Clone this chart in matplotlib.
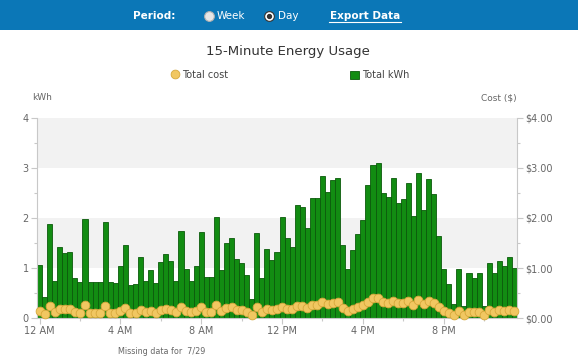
import matplotlib
matplotlib.use('Agg')
import matplotlib.pyplot as plt
from matplotlib.lines import Line2D
from matplotlib.patches import Rectangle
from matplotlib.ticker import MultipleLocator

# 15-minute readings (kWh per interval)
kwh = [1.07, 0.43, 1.89, 0.75, 1.43, 1.31, 1.33, 0.81, 0.73, 1.98, 0.73, 0.73,
       0.73, 1.92, 0.73, 0.71, 1.05, 1.47, 0.67, 0.69, 1.23, 0.75, 0.97, 0.70,
       1.13, 1.29, 1.15, 0.75, 1.75, 0.98, 0.75, 1.05, 1.73, 0.83, 0.83, 2.02,
       0.97, 1.51, 1.61, 1.19, 1.11, 0.87, 0.39, 1.71, 0.81, 1.38, 1.17, 1.33,
       2.02, 1.60, 1.43, 2.27, 2.23, 1.81, 2.39, 2.39, 2.83, 2.52, 2.75, 2.79,
       1.47, 0.98, 1.37, 1.69, 1.97, 2.65, 3.07, 3.10, 2.51, 2.42, 2.80, 2.31,
       2.38, 2.69, 2.05, 2.89, 2.17, 2.77, 2.47, 1.65, 0.98, 0.68, 0.28, 0.98,
       0.25, 0.91, 0.80, 0.91, 0.25, 1.10, 0.91, 1.15, 1.05, 1.23, 1.00]

# cost per interval ($)
cost = [0.15, 0.08, 0.25, 0.12, 0.19, 0.18, 0.18, 0.12, 0.11, 0.26, 0.11, 0.11,
        0.11, 0.25, 0.11, 0.11, 0.15, 0.20, 0.10, 0.10, 0.17, 0.12, 0.14, 0.11,
        0.16, 0.18, 0.16, 0.12, 0.23, 0.14, 0.12, 0.15, 0.23, 0.13, 0.13, 0.26,
        0.14, 0.20, 0.22, 0.17, 0.16, 0.13, 0.07, 0.23, 0.12, 0.19, 0.16, 0.18,
        0.22, 0.19, 0.18, 0.24, 0.24, 0.21, 0.27, 0.27, 0.32, 0.29, 0.31, 0.32,
        0.20, 0.14, 0.19, 0.22, 0.26, 0.33, 0.40, 0.41, 0.32, 0.31, 0.35, 0.30,
        0.30, 0.34, 0.27, 0.36, 0.28, 0.35, 0.31, 0.22, 0.14, 0.11, 0.06, 0.14,
        0.06, 0.13, 0.12, 0.13, 0.06, 0.16, 0.13, 0.16, 0.15, 0.17, 0.15]

hour_ticks = [0, 16, 32, 48, 64, 80]
hour_labels = ['12 AM', '4 AM', '8 AM', '12 PM', '4 PM', '8 PM']
kwh_ticks = [0, 1, 2, 3, 4]
cost_labels = ['$0.00', '$1.00', '$2.00', '$3.00', '$4.00']

bar_green = '#128c12'
dot_yellow = '#f1c761'
grid_gray = '#c8c8c8'
label_gray = '#666666'

fig = plt.figure(figsize=(5.78, 3.64), dpi=100)

# main plot area
ax = fig.add_axes([37 / 578, 46 / 364, 480 / 578, 200 / 364])
ax.axhspan(1, 2, color='#f2f2f2', zorder=0, lw=0)
ax.axhspan(3, 4, color='#f2f2f2', zorder=0, lw=0)
x = list(range(len(kwh)))
ax.bar(x, kwh, width=1.0, color=bar_green, edgecolor='#0b5a0b', linewidth=0.6, zorder=2)
ax.set_xlim(-0.5, len(kwh) - 0.5)
ax.set_ylim(0, 4)
ax.set_yticks(kwh_ticks)
ax.set_yticklabels([str(t) for t in kwh_ticks])
ax.yaxis.set_minor_locator(MultipleLocator(0.5))
ax.set_xticks(hour_ticks)
ax.set_xticklabels(hour_labels)
ax.xaxis.set_minor_locator(MultipleLocator(8))
for s in ['top', 'right']:
    ax.spines[s].set_visible(False)
for s in ['left', 'bottom']:
    ax.spines[s].set_color(grid_gray)
    ax.spines[s].set_linewidth(0.8)
ax.tick_params(which='both', colors=grid_gray, labelcolor=label_gray, labelsize=7, width=0.8)
ax.tick_params(which='major', length=4, pad=2)
ax.tick_params(which='minor', length=2.5)

# cost on the right axis
ax2 = ax.twinx()
ax2.set_ylim(0, 4)
ax2.plot(x, cost, linestyle='none', marker='o', ms=6.3, mfc=dot_yellow,
         mec='#d6a73a', mew=0.6, clip_on=False, zorder=3)
ax2.set_yticks(kwh_ticks)
ax2.set_yticklabels(cost_labels)
ax2.yaxis.set_minor_locator(MultipleLocator(0.5))
for s in ['top', 'left', 'bottom']:
    ax2.spines[s].set_visible(False)
ax2.spines['right'].set_color(grid_gray)
ax2.spines['right'].set_linewidth(0.8)
ax2.tick_params(which='both', colors=grid_gray, labelcolor=label_gray, labelsize=7, width=0.8)
ax2.tick_params(which='major', length=4, pad=2)
ax2.tick_params(which='minor', length=2.5)

# legend
handles = [Line2D([], [], linestyle='none', marker='o', ms=6.3, mfc=dot_yellow, mec='#d6a73a', mew=0.6),
           Rectangle((0, 0), 1, 1, fc=bar_green, ec='#0b5a0b', lw=0.6)]
fig.legend(handles, ['Total cost', 'Total kWh'], loc='center', bbox_to_anchor=(290 / 578, 1 - 75 / 364),
           ncol=2, frameon=False, fontsize=7, labelcolor='#444444', columnspacing=12.5,
           handlelength=0.9, handleheight=0.9, handletextpad=0.3)

# page furniture in pixel coordinates
ov = fig.add_axes([0, 0, 1, 1])
ov.set_xlim(0, 578)
ov.set_ylim(364, 0)
ov.axis('off')
ov.add_patch(Rectangle((0, 0), 578, 30, color='#0b77b7', lw=0))
ov.text(154, 16, 'Period:', color='white', fontsize=7.5, fontweight='bold', ha='center', va='center')
ov.plot(208.5, 16, 'o', ms=7, mfc='#e6e6e6', mec='#b0b0b0', mew=0.8)
ov.text(217, 16, 'Week', color='white', fontsize=7.5, ha='left', va='center')
ov.plot(268.6, 16, 'o', ms=7, mfc='white', mec='#333333', mew=0.8)
ov.plot(268.6, 16, 'o', ms=2.8, mfc='#333333', mec='#333333')
ov.text(278, 16, 'Day', color='white', fontsize=7.5, ha='left', va='center')
ov.text(365, 16, 'Export Data', color='white', fontsize=7.5, fontweight='bold', ha='center', va='center')
ov.plot([329, 401], [21.5, 21.5], color='white', lw=0.8)

ov.text(288, 52, '15-Minute Energy Usage', fontsize=9.5, color='#333333', ha='center', va='center')
ov.text(42, 98, 'kWh', fontsize=6.5, color=label_gray, ha='center', va='center')
ov.text(499, 98, 'Cost ($)', fontsize=6.5, color=label_gray, ha='center', va='center')
ov.text(162, 351, 'Missing data for  7/29', fontsize=5.8, color=label_gray, ha='center', va='center')

fig.savefig('out.png', dpi=100)
